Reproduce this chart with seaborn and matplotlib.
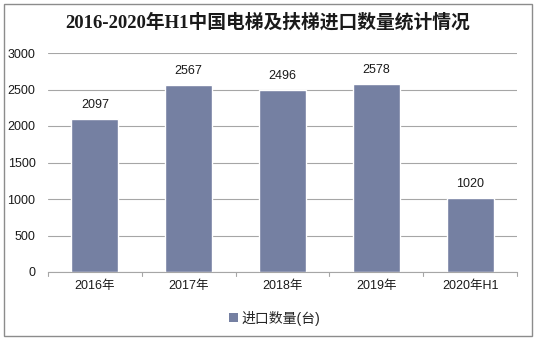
import matplotlib
matplotlib.use("Agg")
import matplotlib.pyplot as plt
import seaborn as sns
import pandas as pd
from matplotlib.patches import Rectangle, Patch

years = ["2016年", "2017年", "2018年", "2019年", "2020年H1"]
imports = [2097, 2567, 2496, 2578, 1020]
yticks = [0, 500, 1000, 1500, 2000, 2500, 3000]

sns.set_theme(style="white")
plt.rcParams["font.family"] = ["Liberation Sans", "Noto Sans CJK SC", "DejaVu Sans"]

bar_color = "#7580a2"
grid_color = "#a6a6a6"
text_color = "#1a1a1a"
df = pd.DataFrame({"year": years, "count": imports})

fig = plt.figure(figsize=(5.35, 3.4), dpi=100)
ax = fig.add_axes([48 / 535, 1 - 272 / 340, (517 - 48) / 535, (272 - 53) / 340])

sns.barplot(data=df, x="year", y="count", color=bar_color, width=0.5,
            saturation=1, ax=ax)

ax.set_ylim(0, 3000)
ax.set_yticks(yticks)
ax.set_yticklabels([str(t) for t in yticks], fontsize=9, color=text_color)
ax.set_xticklabels(years, fontsize=9, color=text_color)
ax.set_xlabel("")
ax.set_ylabel("")
ax.grid(axis="y", color=grid_color, linewidth=0.8)
ax.set_axisbelow(True)
for side in ["top", "right", "left"]:
    ax.spines[side].set_visible(False)
ax.spines["bottom"].set_color(grid_color)
ax.spines["bottom"].set_linewidth(0.8)
ax.tick_params(axis="y", length=0, pad=9)
ax.tick_params(axis="x", length=0, pad=6)

# category boundary ticks below the axis
for b in [-0.5, 0.5, 1.5, 2.5, 3.5, 4.5]:
    ax.plot([b, b], [0, -50], color=grid_color, linewidth=0.8, clip_on=False)
ax.set_xlim(-0.5, 4.5)

for i, v in enumerate(imports):
    ax.text(i, v + 110, str(v), ha="center", va="bottom", fontsize=9,
            color=text_color)

fig.text(0.5, 1 - 22 / 340, "2016-2020年H1中国电梯及扶梯进口数量统计情况",
         ha="center", va="center", fontsize=13.5, fontweight="bold",
         color=text_color, family=["Liberation Serif", "Noto Sans CJK SC"])

handle = Patch(facecolor=bar_color, edgecolor="none")
fig.legend([handle], ["进口数量(台)"], loc="center",
           bbox_to_anchor=(275 / 535, 1 - 318 / 340), frameon=False,
           fontsize=10, handlelength=0.6, handleheight=0.6, handletextpad=0.3)

fig.patches.append(Rectangle((4 / 535, 4 / 340), 528 / 535, 332 / 340,
                             transform=fig.transFigure, fill=False,
                             edgecolor="#8c8c8c", linewidth=1))

fig.savefig("out.png", dpi=100)
